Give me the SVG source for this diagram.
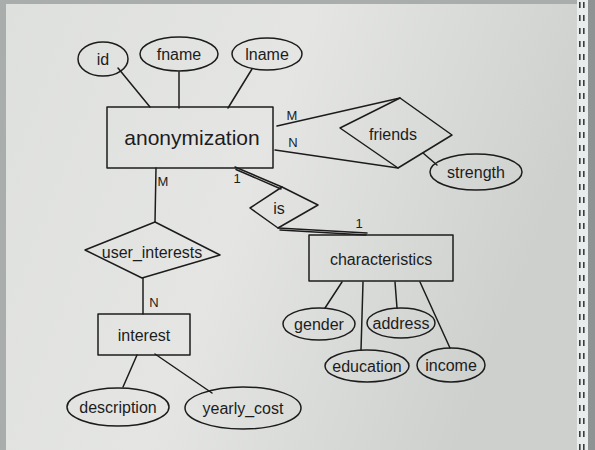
<svg xmlns="http://www.w3.org/2000/svg" width="595" height="450" viewBox="0 0 595 450">
<defs>
<linearGradient id="board" x1="0" y1="0" x2="1" y2="0.3">
<stop offset="0" stop-color="#dee0de"/>
<stop offset="0.5" stop-color="#e5e6e4"/>
<stop offset="1" stop-color="#cdd0cd"/>
</linearGradient>
<pattern id="slots" x="0" y="0" width="12" height="13" patternUnits="userSpaceOnUse">
<rect x="3" y="2" width="1.6" height="6" fill="#3a3d3d"/>
<rect x="7" y="2" width="1.6" height="6" fill="#3a3d3d"/>
</pattern>
<style>
.ink{fill:none;stroke:#1c1c1c;stroke-width:1.5;stroke-linejoin:round;stroke-linecap:round}
.t{font-family:"Liberation Sans","DejaVu Sans",sans-serif;font-size:16px;fill:#1c1c1c;text-anchor:middle;dominant-baseline:central}
.big{font-size:21px}
.card{font-size:13px}
</style>
</defs>
<rect width="595" height="450" fill="#a9adab"/>
<rect x="6" y="4" width="571" height="446" fill="url(#board)"/>
<rect x="577" y="0" width="11" height="450" fill="#e9ecec"/>
<rect x="577" y="0" width="11" height="450" fill="url(#slots)"/>
<rect x="588" y="0" width="7" height="450" fill="#8f9393"/>

<g id="connectors" class="ink">
<line x1="118" y1="68" x2="150" y2="107"/>
<line x1="179" y1="72" x2="179" y2="108"/>
<line x1="252" y1="69" x2="228" y2="108"/>
<line x1="277" y1="126" x2="400" y2="98"/>
<line x1="275" y1="150" x2="398" y2="168"/>
<line x1="423" y1="153" x2="437" y2="165"/>
<line x1="235" y1="167" x2="282" y2="187"/>
<line x1="236" y1="169.5" x2="281" y2="189"/>
<line x1="278" y1="228" x2="367" y2="233"/>
<line x1="280" y1="230" x2="366" y2="235"/>
<line x1="156" y1="168" x2="155" y2="222"/>
<line x1="143" y1="278" x2="143" y2="314"/>
<line x1="137" y1="355" x2="123" y2="387"/>
<line x1="155" y1="354" x2="212" y2="393"/>
<line x1="342" y1="282" x2="325" y2="308"/>
<line x1="363" y1="282" x2="361" y2="350"/>
<line x1="395" y1="282" x2="397" y2="308"/>
<line x1="420" y1="282" x2="450" y2="348"/>
</g>

<g id="id"><ellipse class="ink" cx="103" cy="59" rx="25" ry="17"/><text class="t" x="103" y="59">id</text></g>
<g id="fname"><ellipse class="ink" cx="179" cy="54" rx="39" ry="17"/><text class="t" x="179" y="54">fname</text></g>
<g id="lname"><ellipse class="ink" cx="267" cy="54" rx="35" ry="16"/><text class="t" x="267" y="54">lname</text></g>

<g id="anonymization"><rect class="ink" x="107" y="107" width="166" height="61"/><text class="t big" x="192" y="137">anonymization</text></g>

<g id="friends"><polygon class="ink" points="340,128 400,98 452,135 398,168"/><text class="t" x="393" y="134">friends</text></g>
<g id="strength"><ellipse class="ink" cx="476" cy="172" rx="46" ry="18"/><text class="t" x="476" y="172">strength</text></g>

<g id="is"><polygon class="ink" points="250,208 282,187 318,205 278,228"/><text class="t" x="279" y="208">is</text></g>

<g id="characteristics"><rect class="ink" x="309" y="235" width="144" height="46"/><text class="t" x="381" y="259">characteristics</text></g>
<g id="gender"><ellipse class="ink" cx="319" cy="324" rx="36" ry="16"/><text class="t" x="319" y="324">gender</text></g>
<g id="address"><ellipse class="ink" cx="401" cy="323" rx="34" ry="15"/><text class="t" x="401" y="323">address</text></g>
<g id="education"><ellipse class="ink" cx="367" cy="366" rx="42" ry="16"/><text class="t" x="367" y="366">education</text></g>
<g id="income"><ellipse class="ink" cx="451" cy="365" rx="34" ry="17"/><text class="t" x="451" y="365">income</text></g>

<g id="user_interests"><polygon class="ink" points="85,250 155,222 220,255 142,278"/><text class="t" x="152" y="252">user_interests</text></g>
<g id="interest"><rect class="ink" x="98" y="314" width="92" height="41"/><text class="t" x="144" y="335">interest</text></g>
<g id="description"><ellipse class="ink" cx="118" cy="407" rx="51" ry="19"/><text class="t" x="118" y="407">description</text></g>
<g id="yearly_cost"><ellipse class="ink" cx="243" cy="408" rx="58" ry="21"/><text class="t" x="243" y="408">yearly_cost</text></g>

<g id="labels">
<text class="t card" x="292" y="115">M</text>
<text class="t card" x="293" y="142">N</text>
<text class="t card" x="163" y="181">M</text>
<text class="t card" x="237" y="178">1</text>
<text class="t card" x="359" y="223">1</text>
<text class="t card" x="154" y="302">N</text>
</g>
</svg>
